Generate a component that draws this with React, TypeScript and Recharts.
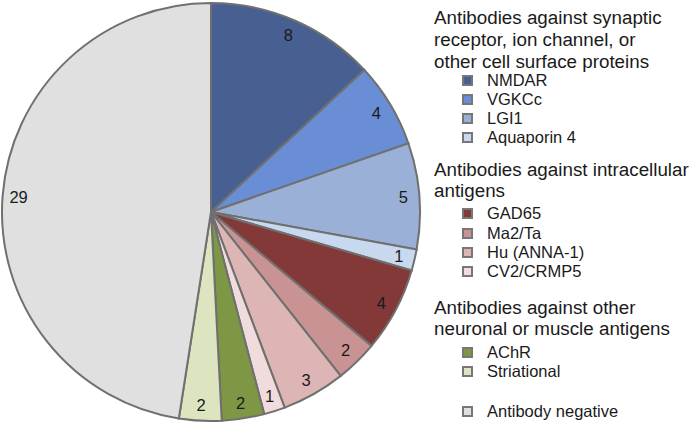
import { PieChart, Pie, Cell } from 'recharts';

const categories = [
  'NMDAR', 'VGKCc', 'LGI1', 'Aquaporin 4',
  'GAD65', 'Ma2/Ta', 'Hu (ANNA-1)', 'CV2/CRMP5',
  'AChR', 'Striational', 'Antibody negative',
];
const counts = [8, 4, 5, 1, 4, 2, 3, 1, 2, 2, 29];
const colors = [
  '#475f91', '#6a8ed5', '#9bb0d6', '#c8d8ef',
  '#843939', '#c99393', '#ddb5b5', '#f0dcdc',
  '#7e9744', '#dce5c0', '#e0e0e0',
];

const headings = [
  'Antibodies against synaptic', 'receptor, ion channel, or', 'other cell surface proteins',
  'Antibodies against intracellular', 'antigens',
  'Antibodies against other', 'neuronal or muscle antigens',
];
// vertical centre of each legend line
const headingY = [18, 40, 62, 170, 191, 308, 329];
const itemY = [80, 99, 118, 137, 213, 233, 252, 271, 352, 371, 411];

const data = categories.map((name, i) => ({ name, value: counts[i] }));

const RADIAN = Math.PI / 180;
const font = 'Arial, "Liberation Sans", sans-serif';

const renderLabel = (props: any) => {
  const { cx, cy, midAngle, value } = props;
  const r = 193;
  const x = cx + r * Math.cos(-midAngle * RADIAN);
  const y = cy + r * Math.sin(-midAngle * RADIAN);
  return (
    <text x={x} y={y} fill="#1a1a1a" fontSize={16.5} fontFamily={font} textAnchor="middle" dominantBaseline="central">
      {value}
    </text>
  );
};

export default function App() {
  return (
    <div style={{ position: 'relative', width: 691, height: 425, background: '#fff', fontFamily: font, color: '#1a1a1a' }}>
      <style>{`body { margin: 0; }`}</style>
      <PieChart width={691} height={425} margin={{ top: 0, right: 0, bottom: 0, left: 0 }}>
        <Pie
          data={data}
          dataKey="value"
          nameKey="name"
          cx={211}
          cy={212}
          outerRadius={209}
          startAngle={90}
          endAngle={-270}
          stroke="#707070"
          strokeWidth={2}
          label={renderLabel}
          labelLine={false}
          isAnimationActive={false}
        >
          {data.map((d, i) => (
            <Cell key={d.name} fill={colors[i]} />
          ))}
        </Pie>
      </PieChart>
      {headings.map((t, i) => (
        <div
          key={t}
          style={{ position: 'absolute', left: 434, top: headingY[i] - 11, height: 22, lineHeight: '22px', fontSize: 18.8, whiteSpace: 'nowrap' }}
        >
          {t}
        </div>
      ))}
      {categories.map((c, i) => (
        <div
          key={c}
          style={{ position: 'absolute', left: 462, top: itemY[i] - 10, height: 20, display: 'flex', alignItems: 'center' }}
        >
          <span style={{ width: 7, height: 7, background: colors[i], border: '2px solid #777', marginRight: 14 }} />
          <span style={{ fontSize: 16.5, whiteSpace: 'nowrap' }}>{c}</span>
        </div>
      ))}
    </div>
  );
}
